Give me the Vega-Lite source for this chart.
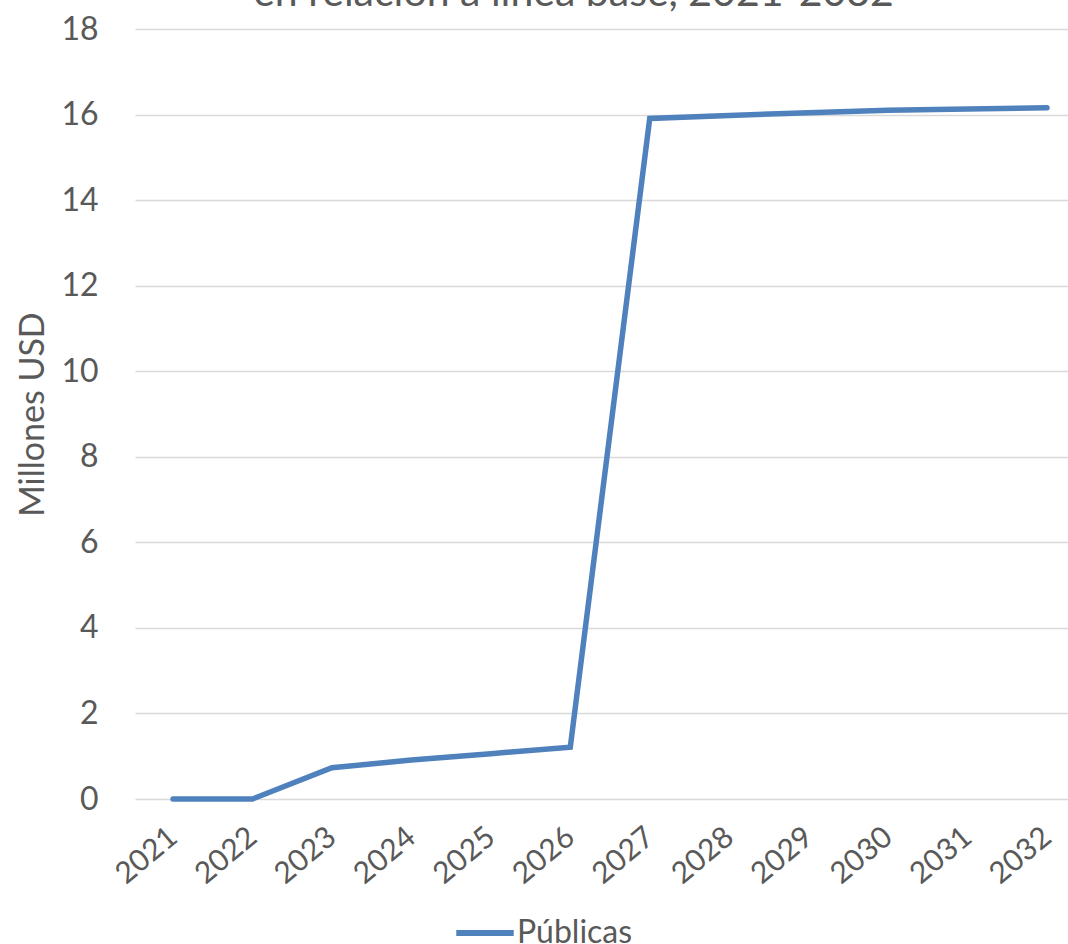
{
  "$schema": "https://vega.github.io/schema/vega-lite/v6.json",
  "autosize": "none",
  "width": 933,
  "height": 770,
  "padding": {"left": 135, "top": 29, "right": 0, "bottom": 145},
  "background": "white",
  "title": {
    "text": "en relación a línea base,  2021-2032",
    "anchor": "middle",
    "dx": -28,
    "dy": 34,
    "offset": 0,
    "baseline": "alphabetic",
    "font": "Lato",
    "fontSize": 41,
    "fontWeight": "normal",
    "color": "#595959"
  },
  "config": {
    "view": {"stroke": null},
    "font": "Lato"
  },
  "data": {
    "values": [
      {"year": "2021", "value": 0, "serie": "Públicas"},
      {"year": "2022", "value": 0, "serie": "Públicas"},
      {"year": "2023", "value": 0.73, "serie": "Públicas"},
      {"year": "2024", "value": 0.91, "serie": "Públicas"},
      {"year": "2025", "value": 1.06, "serie": "Públicas"},
      {"year": "2026", "value": 1.21, "serie": "Públicas"},
      {"year": "2027", "value": 15.91, "serie": "Públicas"},
      {"year": "2028", "value": 15.98, "serie": "Públicas"},
      {"year": "2029", "value": 16.04, "serie": "Públicas"},
      {"year": "2030", "value": 16.1, "serie": "Públicas"},
      {"year": "2031", "value": 16.13, "serie": "Públicas"},
      {"year": "2032", "value": 16.16, "serie": "Públicas"}
    ]
  },
  "mark": {"type": "line", "strokeWidth": 5.5, "strokeCap": "round", "strokeJoin": "miter"},
  "encoding": {
    "x": {
      "field": "year",
      "type": "ordinal",
      "scale": {"type": "point", "padding": 0.3715, "align": 0.644},
      "axis": {
        "title": null,
        "domain": false,
        "ticks": false,
        "grid": false,
        "labelAngle": -40,
        "labelAlign": "right",
        "labelBaseline": "middle",
        "labelPadding": 34,
        "labelFont": "Lato",
        "labelFontSize": 30,
        "labelColor": "#595959"
      }
    },
    "y": {
      "field": "value",
      "type": "quantitative",
      "scale": {"domain": [0, 18], "nice": false},
      "axis": {
        "title": "Millones USD",
        "titleFont": "Lato",
        "titleFontSize": 34,
        "titleFontWeight": "normal",
        "titleColor": "#595959",
        "titlePadding": 10,
        "values": [0, 2, 4, 6, 8, 10, 12, 14, 16, 18],
        "domain": false,
        "ticks": false,
        "grid": true,
        "gridColor": "#D9D9D9",
        "gridWidth": 1.5,
        "labelPadding": 37,
        "labelFont": "Lato",
        "labelFontSize": 32,
        "labelColor": "#595959"
      }
    },
    "color": {
      "field": "serie",
      "type": "nominal",
      "scale": {"range": ["#4F81BD"]},
      "legend": {
        "title": null,
        "orient": "none",
        "legendX": 318,
        "legendY": 872,
        "symbolType": "stroke",
        "symbolSize": 3300,
        "symbolStrokeWidth": 6,
        "labelFont": "Lato",
        "labelFontSize": 32,
        "labelColor": "#595959",
        "labelOffset": 0
      }
    }
  }
}
